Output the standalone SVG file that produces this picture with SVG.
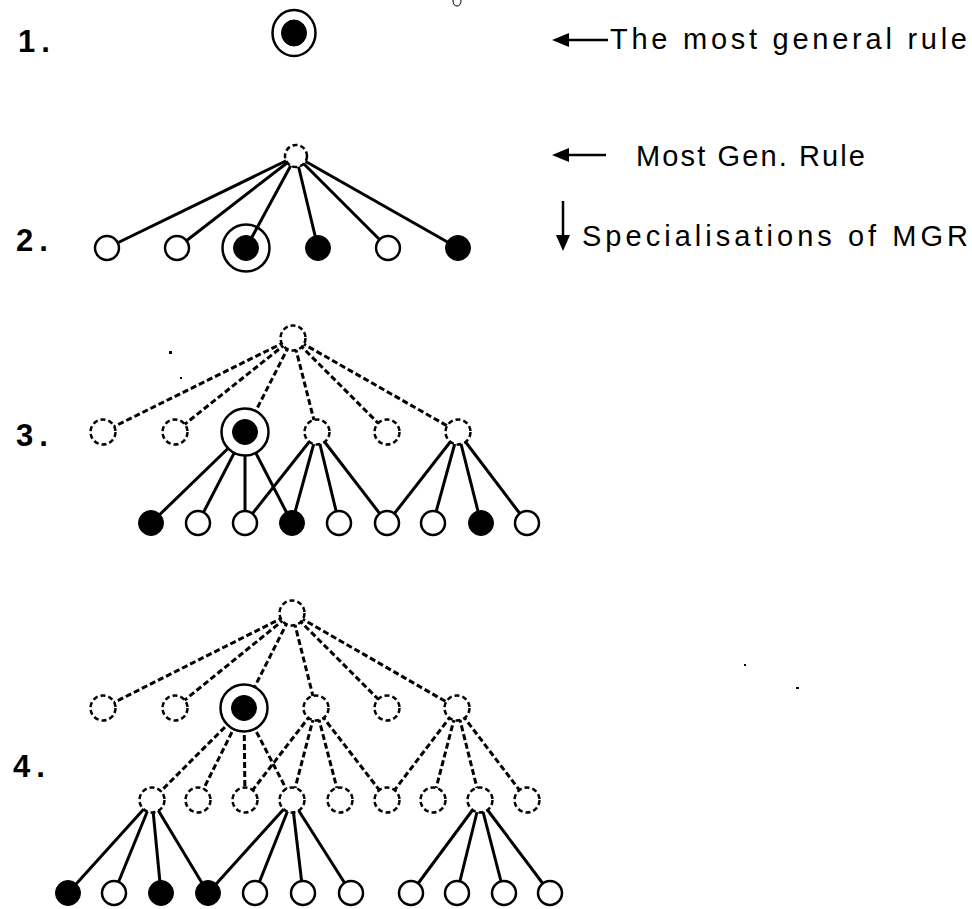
<svg xmlns="http://www.w3.org/2000/svg" width="972" height="909" viewBox="0 0 972 909">
<style>
.bg{fill:#fff}
.lbl{font-family:"Liberation Sans",Arial,sans-serif;font-weight:bold;font-size:31px;fill:#000;letter-spacing:6px}
.txt{font-family:"Liberation Sans",Arial,sans-serif;font-size:29px;fill:#000}
.s{stroke:#000;stroke-width:3;fill:none}
.d{stroke:#000;stroke-width:3;fill:none;stroke-dasharray:6 3}
.o{fill:#fff;stroke:#000;stroke-width:2.5}
.dn{fill:#fff;stroke:#000;stroke-width:2.5;stroke-dasharray:5 3}
.f{fill:#000;stroke:#000;stroke-width:1}
.ring{fill:#fff;stroke:#000;stroke-width:2.5}
.ring0{fill:none;stroke:#000;stroke-width:2.5}
.ar{stroke:#000;stroke-width:2.5;fill:none}
.ah{fill:#000}
.speck{fill:#000}
</style>
<rect class="bg" x="0" y="0" width="972" height="909"/>

<!-- row labels -->
<g id="labels">
<text class="lbl" x="18" y="52">1.</text>
<text class="lbl" x="16" y="251">2.</text>
<text class="lbl" x="16" y="446">3.</text>
<text class="lbl" x="13" y="777">4.</text>
</g>

<!-- annotations -->
<g id="annotations">
<line class="ar" x1="564" y1="40" x2="608" y2="40"/>
<polygon class="ah" points="552,40 569,33 569,47"/>
<text class="txt" x="610" y="49" font-size="30" textLength="357" lengthAdjust="spacing">The most general rule</text>
<line class="ar" x1="564" y1="155" x2="606" y2="155"/>
<polygon class="ah" points="552,155 569,148 569,162"/>
<text class="txt" x="636" y="166" font-size="28" textLength="229" lengthAdjust="spacing">Most Gen. Rule</text>
<line class="ar" x1="563" y1="201" x2="563" y2="240"/>
<polygon class="ah" points="556,235 570,235 563,251"/>
<text class="txt" x="582" y="246" font-size="28" textLength="386" lengthAdjust="spacing">Specialisations of MGR</text>
</g>

<!-- connectors -->
<g id="connectors">
<!-- level 2 -->
<line class="s" x1="296" y1="156" x2="107" y2="248"/>
<line class="s" x1="296" y1="156" x2="177" y2="248"/>
<line class="s" x1="296" y1="156" x2="246" y2="248"/>
<line class="s" x1="296" y1="156" x2="318" y2="248"/>
<line class="s" x1="296" y1="156" x2="388" y2="248"/>
<line class="s" x1="296" y1="156" x2="458" y2="248"/>
<!-- level 3 -->
<line class="d" x1="293" y1="338" x2="103" y2="432"/>
<line class="d" x1="293" y1="338" x2="175" y2="432"/>
<line class="d" x1="293" y1="338" x2="245" y2="432"/>
<line class="d" x1="293" y1="338" x2="317" y2="432"/>
<line class="d" x1="293" y1="338" x2="387" y2="432"/>
<line class="d" x1="293" y1="338" x2="458" y2="432"/>
<line class="s" x1="245" y1="432" x2="151" y2="523"/>
<line class="s" x1="245" y1="432" x2="198" y2="523"/>
<line class="s" x1="245" y1="432" x2="245" y2="523"/>
<line class="s" x1="245" y1="432" x2="292" y2="523"/>
<line class="s" x1="317" y1="432" x2="245" y2="523"/>
<line class="s" x1="317" y1="432" x2="292" y2="523"/>
<line class="s" x1="317" y1="432" x2="339" y2="523"/>
<line class="s" x1="317" y1="432" x2="387" y2="523"/>
<line class="s" x1="458" y1="432" x2="387" y2="523"/>
<line class="s" x1="458" y1="432" x2="433" y2="523"/>
<line class="s" x1="458" y1="432" x2="481" y2="523"/>
<line class="s" x1="458" y1="432" x2="527" y2="523"/>
<!-- level 4 -->
<line class="d" x1="292" y1="613" x2="103" y2="708"/>
<line class="d" x1="292" y1="613" x2="175" y2="708"/>
<line class="d" x1="292" y1="613" x2="244" y2="708"/>
<line class="d" x1="292" y1="613" x2="316" y2="708"/>
<line class="d" x1="292" y1="613" x2="387" y2="708"/>
<line class="d" x1="292" y1="613" x2="457" y2="708"/>
<line class="d" x1="244" y1="708" x2="152" y2="800"/>
<line class="d" x1="244" y1="708" x2="198" y2="800"/>
<line class="d" x1="244" y1="708" x2="245" y2="800"/>
<line class="d" x1="244" y1="708" x2="292" y2="800"/>
<line class="d" x1="316" y1="708" x2="245" y2="800"/>
<line class="d" x1="316" y1="708" x2="292" y2="800"/>
<line class="d" x1="316" y1="708" x2="340" y2="800"/>
<line class="d" x1="316" y1="708" x2="387" y2="800"/>
<line class="d" x1="457" y1="708" x2="387" y2="800"/>
<line class="d" x1="457" y1="708" x2="433" y2="800"/>
<line class="d" x1="457" y1="708" x2="480" y2="800"/>
<line class="d" x1="457" y1="708" x2="527" y2="800"/>
<line class="s" x1="152" y1="800" x2="68" y2="893"/>
<line class="s" x1="152" y1="800" x2="114" y2="893"/>
<line class="s" x1="152" y1="800" x2="161" y2="893"/>
<line class="s" x1="152" y1="800" x2="208" y2="893"/>
<line class="s" x1="292" y1="800" x2="208" y2="893"/>
<line class="s" x1="292" y1="800" x2="255" y2="893"/>
<line class="s" x1="292" y1="800" x2="303" y2="893"/>
<line class="s" x1="292" y1="800" x2="351" y2="893"/>
<line class="s" x1="480" y1="800" x2="411" y2="893"/>
<line class="s" x1="480" y1="800" x2="457" y2="893"/>
<line class="s" x1="480" y1="800" x2="504" y2="893"/>
<line class="s" x1="480" y1="800" x2="550" y2="893"/>
</g>

<!-- level 1 -->
<g id="n1"><ellipse class="ring" cx="294" cy="33" rx="21.5" ry="23"/><ellipse class="f" cx="294" cy="33" rx="12.5" ry="13"/></g>

<!-- level 2 -->
<g id="n2-root"><circle class="dn" cx="296" cy="156" r="11"/></g>
<g id="n2-a"><circle class="o" cx="107" cy="248" r="12"/></g>
<g id="n2-b"><circle class="o" cx="177" cy="248" r="12"/></g>
<g id="n2-c"><circle class="ring0" cx="246" cy="248" r="23.5"/><circle class="f" cx="246" cy="248" r="12.5"/></g>
<g id="n2-d"><circle class="f" cx="318" cy="248" r="12.5"/></g>
<g id="n2-e"><circle class="o" cx="388" cy="248" r="12"/></g>
<g id="n2-f"><circle class="f" cx="458" cy="248" r="12.5"/></g>

<!-- level 3 -->
<g id="n3-root"><circle class="dn" cx="293" cy="338" r="12.5"/></g>
<g id="n3-a"><circle class="dn" cx="103" cy="432" r="12.5"/></g>
<g id="n3-b"><circle class="dn" cx="175" cy="432" r="12.5"/></g>
<g id="n3-c"><circle class="ring" cx="245" cy="432" r="23.5"/><circle class="f" cx="245" cy="432" r="12.5"/></g>
<g id="n3-d"><circle class="dn" cx="317" cy="432" r="12.5"/></g>
<g id="n3-e"><circle class="dn" cx="387" cy="432" r="12.5"/></g>
<g id="n3-f"><circle class="dn" cx="458" cy="432" r="12.5"/></g>
<g id="n3-l1"><circle class="f" cx="151" cy="523" r="12.5"/></g>
<g id="n3-l2"><circle class="o" cx="198" cy="523" r="12"/></g>
<g id="n3-l3"><circle class="o" cx="245" cy="523" r="12"/></g>
<g id="n3-l4"><circle class="f" cx="292" cy="523" r="12.5"/></g>
<g id="n3-l5"><circle class="o" cx="339" cy="523" r="12"/></g>
<g id="n3-l6"><circle class="o" cx="387" cy="523" r="12"/></g>
<g id="n3-l7"><circle class="o" cx="433" cy="523" r="12"/></g>
<g id="n3-l8"><circle class="f" cx="481" cy="523" r="12.5"/></g>
<g id="n3-l9"><circle class="o" cx="527" cy="523" r="12"/></g>

<!-- level 4 -->
<g id="n4-root"><circle class="dn" cx="292" cy="613" r="12.5"/></g>
<g id="n4-a"><circle class="dn" cx="103" cy="708" r="12.5"/></g>
<g id="n4-b"><circle class="dn" cx="175" cy="708" r="12.5"/></g>
<g id="n4-c"><circle class="ring" cx="244" cy="708" r="23.5"/><circle class="f" cx="244" cy="708" r="12.5"/></g>
<g id="n4-d"><circle class="dn" cx="316" cy="708" r="12.5"/></g>
<g id="n4-e"><circle class="dn" cx="387" cy="708" r="12.5"/></g>
<g id="n4-f"><circle class="dn" cx="457" cy="708" r="12.5"/></g>
<g id="n4-m1"><circle class="dn" cx="152" cy="800" r="12.5"/></g>
<g id="n4-m2"><circle class="dn" cx="198" cy="800" r="12.5"/></g>
<g id="n4-m3"><circle class="dn" cx="245" cy="800" r="12.5"/></g>
<g id="n4-m4"><circle class="dn" cx="292" cy="800" r="12.5"/></g>
<g id="n4-m5"><circle class="dn" cx="340" cy="800" r="12.5"/></g>
<g id="n4-m6"><circle class="dn" cx="387" cy="800" r="12.5"/></g>
<g id="n4-m7"><circle class="dn" cx="433" cy="800" r="12.5"/></g>
<g id="n4-m8"><circle class="dn" cx="480" cy="800" r="12.5"/></g>
<g id="n4-m9"><circle class="dn" cx="527" cy="800" r="12.5"/></g>
<g id="n4-l1"><circle class="f" cx="68" cy="893" r="12.5"/></g>
<g id="n4-l2"><circle class="o" cx="114" cy="893" r="12"/></g>
<g id="n4-l3"><circle class="f" cx="161" cy="893" r="12.5"/></g>
<g id="n4-l4"><circle class="f" cx="208" cy="893" r="12.5"/></g>
<g id="n4-l5"><circle class="o" cx="255" cy="893" r="12"/></g>
<g id="n4-l6"><circle class="o" cx="303" cy="893" r="12"/></g>
<g id="n4-l7"><circle class="o" cx="351" cy="893" r="12"/></g>
<g id="n4-l8"><circle class="o" cx="411" cy="893" r="12"/></g>
<g id="n4-l9"><circle class="o" cx="457" cy="893" r="12"/></g>
<g id="n4-l10"><circle class="o" cx="504" cy="893" r="12"/></g>
<g id="n4-l11"><circle class="o" cx="550" cy="893" r="12"/></g>

<!-- specks -->
<g id="specks">
<rect class="speck" x="169" y="351" width="3" height="3"/>
<rect class="speck" x="180" y="377" width="2" height="2"/>
<rect class="speck" x="744" y="664" width="2" height="2"/>
<rect class="speck" x="796" y="687" width="3" height="2"/>
<path d="M453,0 Q453,6 457,6 Q461,6 461,0" fill="none" stroke="#000" stroke-width="1"/>
</g>
</svg>
